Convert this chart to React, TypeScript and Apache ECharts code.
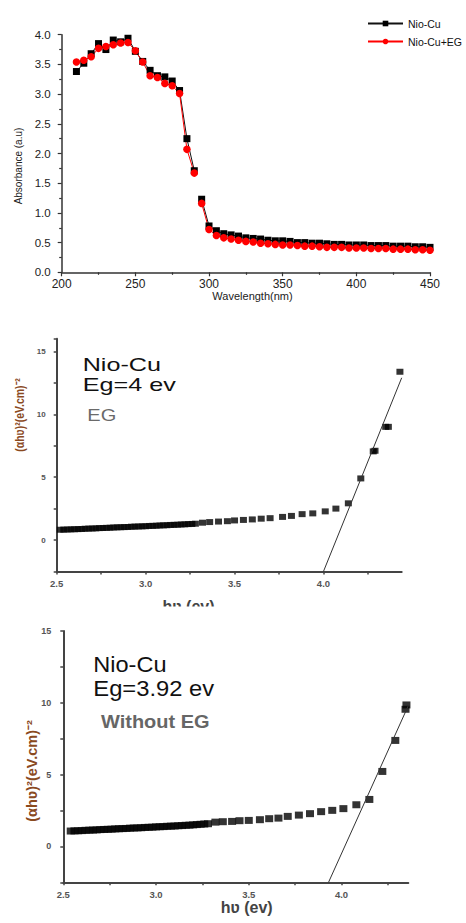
import React, { useEffect, useRef } from "react";
import * as echarts from "echarts";

// ---------- Chart 1: UV-Vis absorbance ----------
const wavelengths = [210, 215, 220, 225, 230, 235, 240, 245, 250, 255, 260, 265, 270, 275, 280, 285, 290, 295, 300, 305, 310, 315, 320, 325, 330, 335, 340, 345, 350, 355, 360, 365, 370, 375, 380, 385, 390, 395, 400, 405, 410, 415, 420, 425, 430, 435, 440, 445, 450];
const nioCu = [3.38, 3.52, 3.68, 3.85, 3.75, 3.91, 3.88, 3.94, 3.72, 3.55, 3.40, 3.31, 3.29, 3.22, 3.06, 2.25, 1.71, 1.23, 0.78, 0.70, 0.65, 0.63, 0.61, 0.58, 0.57, 0.56, 0.54, 0.53, 0.53, 0.52, 0.50, 0.50, 0.49, 0.49, 0.48, 0.47, 0.47, 0.46, 0.46, 0.46, 0.45, 0.45, 0.45, 0.44, 0.44, 0.44, 0.43, 0.43, 0.42];
const nioCuEG = [3.54, 3.57, 3.63, 3.77, 3.80, 3.83, 3.86, 3.87, 3.73, 3.54, 3.31, 3.28, 3.18, 3.14, 3.01, 2.07, 1.67, 1.16, 0.72, 0.62, 0.58, 0.56, 0.54, 0.52, 0.51, 0.49, 0.48, 0.47, 0.46, 0.46, 0.45, 0.44, 0.44, 0.43, 0.42, 0.42, 0.42, 0.41, 0.41, 0.41, 0.40, 0.40, 0.40, 0.39, 0.39, 0.39, 0.38, 0.38, 0.37];
const gapAfterWavelength = 290; // the recorded traces are broken between 290 and 295 nm

// ---------- Chart 2: Tauc plot, Nio-Cu with EG ----------
const egEnergy = [2.52, 2.54, 2.56, 2.58, 2.60, 2.62, 2.64, 2.66, 2.68, 2.70, 2.72, 2.74, 2.76, 2.78, 2.80, 2.82, 2.84, 2.86, 2.88, 2.90, 2.92, 2.94, 2.96, 2.98, 3.00, 3.02, 3.04, 3.06, 3.08, 3.10, 3.12, 3.14, 3.16, 3.18, 3.20, 3.22, 3.24, 3.26, 3.28, 3.32, 3.36, 3.41, 3.46, 3.50, 3.55, 3.60, 3.65, 3.70, 3.77, 3.82, 3.88, 3.94, 4.01, 4.07, 4.14, 4.21, 4.28, 4.29, 4.35, 4.365, 4.43];
const egTauc = [0.82, 0.83, 0.84, 0.85, 0.86, 0.87, 0.88, 0.90, 0.91, 0.92, 0.93, 0.95, 0.96, 0.97, 0.98, 1.00, 1.01, 1.02, 1.03, 1.04, 1.06, 1.07, 1.08, 1.09, 1.10, 1.12, 1.13, 1.14, 1.16, 1.17, 1.18, 1.20, 1.21, 1.22, 1.24, 1.25, 1.27, 1.28, 1.30, 1.38, 1.43, 1.47, 1.50, 1.56, 1.60, 1.64, 1.70, 1.74, 1.84, 1.92, 2.06, 2.12, 2.28, 2.50, 2.92, 4.90, 7.05, 7.10, 9.00, 9.00, 13.38];
const egFitX = [4.0, 4.44];
const egFitY = [-2.5, 12.9];

// ---------- Chart 3: Tauc plot, Nio-Cu without EG ----------
const noEgEnergy = [2.54, 2.56, 2.58, 2.60, 2.62, 2.64, 2.66, 2.68, 2.70, 2.72, 2.74, 2.76, 2.78, 2.80, 2.82, 2.84, 2.86, 2.88, 2.90, 2.92, 2.94, 2.96, 2.98, 3.00, 3.02, 3.04, 3.06, 3.08, 3.10, 3.12, 3.14, 3.16, 3.18, 3.20, 3.22, 3.24, 3.26, 3.28, 3.32, 3.36, 3.41, 3.45, 3.50, 3.56, 3.61, 3.66, 3.71, 3.77, 3.83, 3.89, 3.95, 4.01, 4.08, 4.15, 4.22, 4.29, 4.345, 4.35];
const noEgTauc = [1.07, 1.08, 1.09, 1.10, 1.12, 1.13, 1.14, 1.15, 1.17, 1.18, 1.19, 1.20, 1.22, 1.23, 1.24, 1.25, 1.27, 1.28, 1.29, 1.30, 1.32, 1.33, 1.34, 1.36, 1.37, 1.38, 1.40, 1.41, 1.42, 1.44, 1.45, 1.47, 1.48, 1.50, 1.52, 1.54, 1.56, 1.58, 1.69, 1.72, 1.74, 1.79, 1.81, 1.86, 1.93, 1.97, 2.09, 2.18, 2.28, 2.42, 2.51, 2.63, 2.90, 3.27, 5.22, 7.38, 9.55, 9.85];
const noEgFitX = [3.93, 4.36];
const noEgFitY = [-2.5, 9.8];

const FONT = "'Liberation Sans', Arial, sans-serif";
const BROWN = "#8a4a1f";

const pairs = (xs: number[], ys: number[]) => xs.map((x, i) => [x, ys[i]]);

const isMultiple = (v: number, step: number) => Math.abs(v / step - Math.round(v / step)) < 1e-6;

export default function App() {
  const ref = useRef<HTMLDivElement>(null);

  useEffect(() => {
    if (!ref.current) return;
    const chart = echarts.init(ref.current, null, { renderer: "svg" });

    const cut = wavelengths.findIndex((w) => w > gapAfterWavelength);
    const bl1 = pairs(wavelengths.slice(0, cut), nioCu.slice(0, cut));
    const bl2 = pairs(wavelengths.slice(cut), nioCu.slice(cut));
    const rd1 = pairs(wavelengths.slice(0, cut), nioCuEG.slice(0, cut));
    const rd2 = pairs(wavelengths.slice(cut), nioCuEG.slice(cut));

    const blackLine = {
      type: "line",
      name: "Nio-Cu",
      xAxisIndex: 0,
      yAxisIndex: 0,
      symbol: "rect",
      symbolSize: 7,
      itemStyle: { color: "#000" },
      lineStyle: { color: "#111", width: 1 },
    };
    const redLine = {
      type: "line",
      name: "Nio-Cu+EG",
      xAxisIndex: 0,
      yAxisIndex: 0,
      symbol: "circle",
      symbolSize: 7.5,
      itemStyle: { color: "#ff0000" },
      lineStyle: { color: "#ff0000", width: 1 },
    };

    const tauAxisLine = { lineStyle: { color: "#444", width: 2 } };
    const tauTick = { length: 3, lineStyle: { color: "#444", width: 1.5 } };
    const tauLabel = { fontFamily: FONT, fontWeight: "bold", color: "#555" };

    const option: any = {
      animation: false,
      backgroundColor: "#fff",
      grid: [
        { left: 61.7, top: 34.7, width: 368.3, height: 237.6 },
        { left: 56.7, top: 338.8, width: 345, height: 232.7 },
        { left: 63.3, top: 631, width: 345, height: 251.3 },
      ],
      legend: {
        orient: "vertical",
        left: 362,
        top: 13,
        itemWidth: 35,
        itemHeight: 7,
        itemGap: 7,
        data: ["Nio-Cu", "Nio-Cu+EG"],
        textStyle: { fontFamily: FONT, fontSize: 10.5, color: "#111" },
      },
      xAxis: [
        {
          type: "value",
          gridIndex: 0,
          min: 200,
          max: 450,
          interval: 50,
          axisLine: { lineStyle: { color: "#333", width: 1.5 } },
          axisTick: { length: 4, lineStyle: { color: "#333", width: 1.2 } },
          minorTick: { show: true, splitNumber: 2, length: 2.5, lineStyle: { color: "#333", width: 1.2 } },
          splitLine: { show: false },
          axisLabel: { fontFamily: FONT, fontSize: 12, color: "#222", margin: 6 },
        },
        {
          type: "value",
          gridIndex: 1,
          min: 2.5,
          max: 4.44,
          interval: 0.25,
          axisLine: { ...tauAxisLine, onZero: false },
          axisTick: tauTick,
          splitLine: { show: false },
          axisLabel: {
            ...tauLabel,
            fontSize: 9.5,
            margin: 7,
            showMaxLabel: false,
            formatter: (v: number) => (isMultiple(v, 0.5) ? v.toFixed(1) : ""),
          },
        },
        {
          type: "value",
          gridIndex: 2,
          min: 2.5,
          max: 4.36,
          interval: 0.25,
          axisLine: { ...tauAxisLine, onZero: false },
          axisTick: tauTick,
          splitLine: { show: false },
          axisLabel: {
            ...tauLabel,
            fontSize: 9.5,
            margin: 7,
            showMaxLabel: false,
            formatter: (v: number) => (isMultiple(v, 0.5) ? v.toFixed(1) : ""),
          },
        },
      ],
      yAxis: [
        {
          type: "value",
          gridIndex: 0,
          min: 0,
          max: 4,
          interval: 0.5,
          axisLine: { show: true, lineStyle: { color: "#333", width: 1.5 } },
          axisTick: { show: true, length: 4, lineStyle: { color: "#333", width: 1.2 } },
          minorTick: { show: true, splitNumber: 2, length: 2.5, lineStyle: { color: "#333", width: 1.2 } },
          splitLine: { show: false },
          axisLabel: { fontFamily: FONT, fontSize: 11.5, color: "#222", margin: 11, formatter: (v: number) => v.toFixed(1) },
        },
        {
          type: "value",
          gridIndex: 1,
          min: -2.5,
          max: 16,
          interval: 2.5,
          axisLine: { show: true, ...tauAxisLine, onZero: false },
          axisTick: { show: true, ...tauTick },
          splitLine: { show: false },
          axisLabel: {
            ...tauLabel,
            fontSize: 8,
            margin: 11,
            formatter: (v: number) => (isMultiple(v, 5) ? String(v) : ""),
          },
        },
        {
          type: "value",
          gridIndex: 2,
          min: -2.5,
          max: 15,
          interval: 2.5,
          axisLine: { show: true, ...tauAxisLine, onZero: false },
          axisTick: { show: true, ...tauTick },
          splitLine: { show: false },
          axisLabel: {
            ...tauLabel,
            fontSize: 9,
            margin: 12,
            formatter: (v: number) => (isMultiple(v, 5) ? String(v) : ""),
          },
        },
      ],
      series: [
        { ...blackLine, data: bl1 },
        { ...blackLine, data: bl2 },
        { ...redLine, data: rd1 },
        { ...redLine, data: rd2 },
        {
          type: "scatter",
          xAxisIndex: 1,
          yAxisIndex: 1,
          symbol: "rect",
          symbolSize: [7, 6],
          itemStyle: { color: "#000" },
          data: pairs(egEnergy, egTauc),
        },
        {
          type: "line",
          xAxisIndex: 1,
          yAxisIndex: 1,
          symbol: "none",
          lineStyle: { color: "#333", width: 1 },
          data: pairs(egFitX, egFitY),
        },
        {
          type: "scatter",
          xAxisIndex: 2,
          yAxisIndex: 2,
          symbol: "rect",
          symbolSize: [8, 7],
          itemStyle: { color: "#000" },
          data: pairs(noEgEnergy, noEgTauc),
        },
        {
          type: "line",
          xAxisIndex: 2,
          yAxisIndex: 2,
          symbol: "none",
          lineStyle: { color: "#333", width: 1 },
          data: pairs(noEgFitX, noEgFitY),
        },
      ],
      graphic: [
        // chart 1 axis names
        {
          type: "text", x: 18, y: 166, rotation: Math.PI / 2,
          style: { text: "Absorbance (a.u)", fontFamily: FONT, fontSize: 10, fill: "#222", align: "center", verticalAlign: "middle" },
        },
        {
          type: "text", x: 252.5, y: 296,
          style: { text: "Wavelength(nm)", fontFamily: FONT, fontSize: 11, fill: "#222", align: "center", verticalAlign: "middle" },
        },
        // chart 2 annotations
        {
          type: "text", x: 82.7, y: 365, scaleX: 1.36,
          style: { text: "Nio-Cu", fontFamily: FONT, fontSize: 18.5, fill: "#111", align: "left", verticalAlign: "middle" },
        },
        {
          type: "text", x: 82.7, y: 385, scaleX: 1.36,
          style: { text: "Eg=4 ev", fontFamily: FONT, fontSize: 18.5, fill: "#111", align: "left", verticalAlign: "middle" },
        },
        {
          type: "text", x: 87.3, y: 415.8, scaleX: 1.25,
          style: { text: "EG", fontFamily: FONT, fontSize: 16, fill: "#6a6a6a", align: "left", verticalAlign: "middle" },
        },
        {
          type: "text", x: 20, y: 415, rotation: Math.PI / 2, scaleY: 1.2,
          style: { text: "(\u03b1h\u028b)\u00b2(eV.cm)\u207b\u00b2", fontFamily: FONT, fontWeight: "bold", fontSize: 10.5, fill: BROWN, align: "center", verticalAlign: "middle" },
        },
        {
          type: "text", x: 188.5, y: 606.8, z: 10,
          style: { text: "h\u028b (ev)", fontFamily: FONT, fontWeight: "bold", fontSize: 16, fill: "#444", align: "center", verticalAlign: "middle" },
        },
        {
          type: "rect", z: 11, shape: { x: 120, y: 606.5, width: 150, height: 18 },
          style: { fill: "#fff" },
        },
        // chart 3 annotations
        {
          type: "text", x: 93.3, y: 663.8, scaleX: 1.07,
          style: { text: "Nio-Cu", fontFamily: FONT, fontSize: 22, fill: "#111", align: "left", verticalAlign: "middle" },
        },
        {
          type: "text", x: 93.3, y: 688, scaleX: 1.08,
          style: { text: "Eg=3.92 ev", fontFamily: FONT, fontSize: 22, fill: "#111", align: "left", verticalAlign: "middle" },
        },
        {
          type: "text", x: 101, y: 721.7, scaleX: 1.08,
          style: { text: "Without EG", fontFamily: FONT, fontWeight: "bold", fontSize: 18.5, fill: "#666", align: "left", verticalAlign: "middle" },
        },
        {
          type: "text", x: 32, y: 771, rotation: Math.PI / 2,
          style: { text: "(\u03b1h\u028b)\u00b2(eV.cm)\u207b\u00b2", fontFamily: FONT, fontWeight: "bold", fontSize: 14.5, fill: BROWN, align: "center", verticalAlign: "middle" },
        },
        {
          type: "text", x: 246.7, y: 907.7,
          style: { text: "h\u028b (ev)", fontFamily: FONT, fontWeight: "bold", fontSize: 16, fill: "#444", align: "center", verticalAlign: "middle" },
        },
      ],
    };

    chart.setOption(option);
    return () => chart.dispose();
  }, []);

  return (
    <div
      ref={ref}
      style={{ position: "absolute", left: 0, top: 0, width: 466, height: 923, background: "#fff" }}
    />
  );
}
